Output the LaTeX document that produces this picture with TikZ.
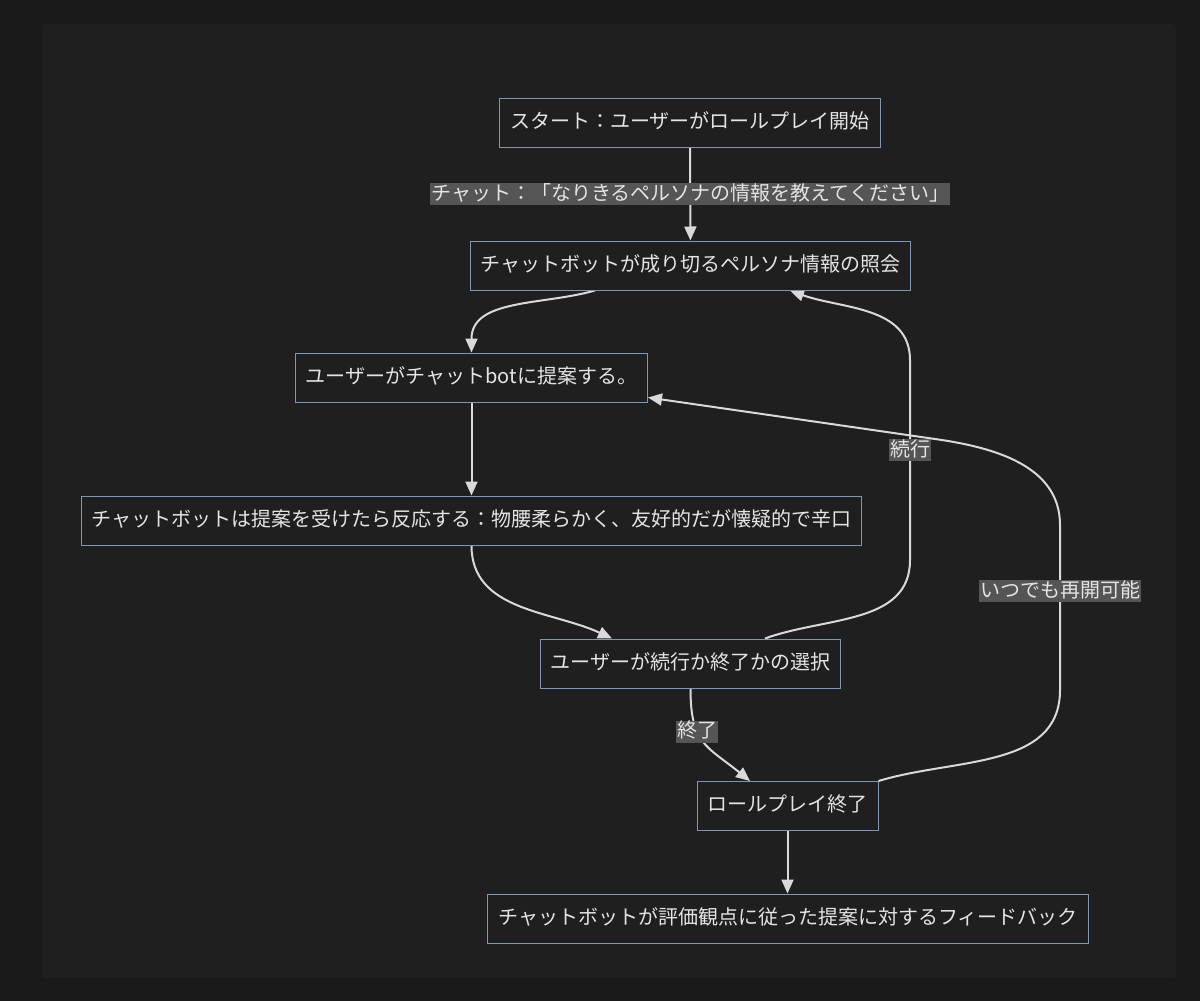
\documentclass[tikz,border=0pt]{standalone}
\usepackage{fontspec}
\setmainfont{Noto Sans CJK JP}
\usetikzlibrary{arrows.meta}
\pgfdeclarelayer{bglayer}
\pgfdeclarelayer{edgelayer}
\pgfdeclarelayer{nodelayer}
\pgfsetlayers{bglayer,edgelayer,nodelayer,main}
\definecolor{outerbg}{HTML}{1A1A1A}
\definecolor{panelbg}{HTML}{1F1F1F}
\definecolor{boxline}{HTML}{7F97B0}
\definecolor{ink}{HTML}{E4E4E4}
\definecolor{wire}{HTML}{D9D9D9}
\definecolor{tagfill}{HTML}{555555}
\tikzstyle{stage}=[rectangle,fill=panelbg,draw=boxline,line width=1pt,text=ink,minimum height=49pt,inner xsep=10.5pt,text height=15.5pt,text depth=4pt,font=\fontsize{20}{24}\selectfont]
\tikzstyle{flow}=[-{Triangle[length=14pt,width=12pt]},draw=wire,line width=2pt]
\tikzstyle{tag}=[fill=tagfill,text=ink,inner xsep=1pt,inner ysep=0pt,text height=17pt,text depth=5pt,font=\fontsize{20}{24}\selectfont]

\begin{document}
\begin{tikzpicture}[x=1pt,y=1pt]
	\useasboundingbox (0, 0) rectangle (1200, -1001);
	\begin{pgfonlayer}{bglayer}
		\fill [outerbg] (0, 0) rectangle (1200, -1001);
		\fill [panelbg, rounded corners=4pt] (42, -24) rectangle (1176, -978);
	\end{pgfonlayer}
	\begin{pgfonlayer}{nodelayer}
		\node [style=stage] (0) at (690, -122.5) {スタート：ユーザーがロールプレイ開始};
		\node [style=stage] (1) at (690.5, -265.5) {チャットボットが成り切るペルソナ情報の照会};
		\node [style=stage] (2) at (471.5, -377.5) {ユーザーがチャットbotに提案する。};
		\node [style=stage] (3) at (471.5, -520.5) {チャットボットは提案を受けたら反応する：物腰柔らかく、友好的だが懐疑的で辛口};
		\node [style=stage] (4) at (690.5, -663.5) {ユーザーが続行か終了かの選択};
		\node [style=stage] (5) at (787.5, -806) {ロールプレイ終了};
		\node [style=stage] (6) at (788, -918.5) {チャットボットが評価観点に従った提案に対するフィードバック};
		\coordinate (r1) at (910, -560);
		\coordinate (r2) at (910, -360);
		\coordinate (s1) at (1060, -690);
		\coordinate (s2) at (1060, -525);
		\coordinate (s3) at (935, -439);
	\end{pgfonlayer}
	\begin{pgfonlayer}{edgelayer}
		\draw [style=flow] (0) to node[style=tag]{チャット：「なりきるペルソナの情報を教えてください」} (1);
		\draw [style=flow] ([xshift=-95.5pt]1.south) to[out=196, in=90] (2.north);
		\draw [style=flow] (2) to (3);
		\draw [style=flow] (3.south) to[out=-90, in=155] ([xshift=-78.5pt]4.north);
		\draw [style=flow] ([xshift=74.5pt]4.north) to[out=20, in=-90] (r1) -- node[style=tag, pos=0.55]{続行} (r2) to[out=90, in=-20] ([xshift=99.5pt]1.south);
		\draw [style=flow] (4.south) to[out=-90, in=141, looseness=1.3] node[style=tag, pos=0.36]{終了} ([xshift=-37.5pt]5.north);
		\draw [style=flow] (5.north east) to[out=17, in=-90] (s1) -- node[style=tag, pos=0.6]{いつでも再開可能} (s2) to[out=90, in=-8] (s3) -- ([yshift=-20pt]2.east);
		\draw [style=flow] (5.south) to (5.south |- 6.north);
	\end{pgfonlayer}
\end{tikzpicture}
\end{document}
